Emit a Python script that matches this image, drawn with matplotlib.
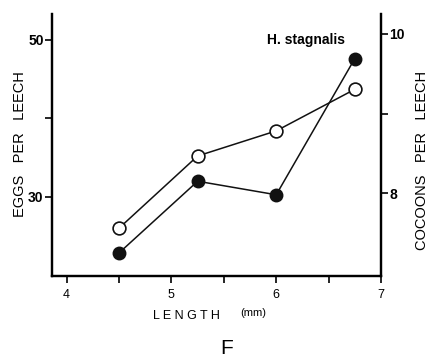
import matplotlib
matplotlib.use("Agg")
import matplotlib.pyplot as plt

plt.rcParams['font.family'] = ['Liberation Sans', 'DejaVu Sans']

length_mm = [4.5, 5.25, 6.0, 6.75]
eggs_per_leech = [26.0, 35.2, 38.4, 43.7]
cocoons_per_leech = [7.25, 8.15, 7.98, 9.69]

x_ticks = [4, 5, 6, 7]
x_minor = [4.5, 5.5, 6.5]
left_ticks = [30, 40, 50]
left_labels = ['30', '', '50']
right_ticks = [8, 9, 10]
right_labels = ['8', '', '10']

W, H = 429, 357
fig = plt.figure(figsize=(W / 100, H / 100), dpi=100)
ax = fig.add_axes([52 / W, 1 - 276 / H, (381 - 52) / W, (276 - 14) / H])
ax.set_xlim(3.86, 7.0)
ax.set_ylim(19.9, 53.3)
ax2 = ax.twinx()
ax2.set_ylim(6.96, 10.25)

for a in (ax, ax2):
    a.spines['top'].set_visible(False)
    for s in a.spines.values():
        s.set_linewidth(1.6)

ax.plot(length_mm, eggs_per_leech, '-', color='#111111', lw=1.1, zorder=3,
        marker='o', ms=9.2, mfc='white', mec='#111111', mew=1.2)
ax2.plot(length_mm, cocoons_per_leech, '-', color='#111111', lw=1.1, zorder=3,
         marker='o', ms=8.8, mfc='#111111', mec='#111111', mew=1.2)

ax.set_xticks(x_ticks)
ax.set_xticks(x_minor, minor=True)
ax.tick_params(axis='x', which='both', direction='out', length=5, width=1.2,
               labelsize=9, pad=4)
ax.set_yticks(left_ticks)
ax.set_yticklabels(left_labels, fontweight='bold')
ax.tick_params(axis='y', direction='out', length=5, width=1.2, labelsize=10, pad=1)
ax2.set_yticks(right_ticks)
ax2.set_yticklabels(right_labels, fontweight='bold')
ax2.tick_params(axis='y', direction='out', length=5, width=1.2, labelsize=10, pad=1)

fig.text(20 / W, 1 - 144 / H, 'EGGS   PER   LEECH', rotation=90, ha='center',
         va='center', fontsize=10.5)
fig.text(422 / W, 1 - 160 / H, 'COCOONS   PER   LEECH', rotation=90, ha='center',
         va='center', fontsize=10.5)
fig.text(186 / W, 1 - 316 / H, 'L E N G T H', ha='center', va='center', fontsize=9)
fig.text(253 / W, 1 - 313 / H, '(mm)', ha='center', va='center', fontsize=8)
fig.text(227 / W, 1 - 348 / H, 'F', ha='center', va='center', fontsize=15)
fig.text(306 / W, 1 - 40 / H, 'H. stagnalis', ha='center', va='center',
         fontsize=10, fontweight='bold')

fig.savefig('out.png', dpi=100)
